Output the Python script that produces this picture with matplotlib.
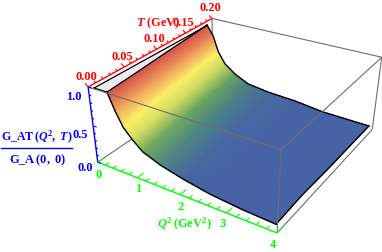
import numpy as np
import matplotlib
matplotlib.use('Agg')
import matplotlib.pyplot as plt
from matplotlib.colors import LinearSegmentedColormap

plt.rcParams['font.family'] = ['Liberation Serif', 'DejaVu Serif']
plt.rcParams['font.weight'] = 'bold'
plt.rcParams['mathtext.fontset'] = 'custom'
plt.rcParams['mathtext.rm'] = 'Liberation Serif:bold'
plt.rcParams['mathtext.it'] = 'Liberation Serif:italic:bold'

# data
T_rows = [0.005, 0.05, 0.10, 0.15, 0.19]
Q_rows = [
    [.36, .51, .67, .86, 1.10, 1.49, 2.00, 2.59, 3.27, 3.92],
    [.28, .42, .58, .77, 1.00, 1.40, 1.90, 2.50, 3.20, 3.92],
    [.18, .33, .48, .67, .92, 1.30, 1.80, 2.45, 3.10, 3.95],
    [.09, .24, .38, .57, .83, 1.20, 1.70, 2.37, 3.03, 3.97],
    [.00, .16, .29, .47, .74, 1.09, 1.61, 2.28, 2.95, 3.99],
]
G_rows = [
    [.97, .76, .58, .46, .34, .25, .175, .11, .07, .05],
    [.965, .77, .59, .46, .34, .25, .18, .13, .09, .07],
    [.96, .78, .60, .45, .33, .24, .18, .14, .10, .08],
    [.955, .79, .60, .445, .33, .235, .185, .155, .115, .095],
    [.947, .81, .60, .44, .325, .23, .19, .17, .125, .11],
]
Q_ticks = [0, 1, 2, 3, 4]
T_ticks = [0.00, 0.05, 0.10, 0.15, 0.20]
G_ticks = [0.0, 0.5, 1.0]

# box corners (Q, T, G) -> pixel position in the figure
corners_3d = [(0, 0, 0), (4, 0, 0), (4, .2, 0), (0, .2, 0), (0, 0, 1), (4, 0, 1), (4, .2, 1), (0, .2, 1)]
corners_px = [(97, 162), (277, 234), (373, 128), (213, 88), (89, 87), (281, 153), (381, 59), (212, 18)]


def fit_camera():
    rows = []
    for (q, t, g), (u, v) in zip(corners_3d, corners_px):
        p = [q, t * 20, g, 1]
        rows.append(p + [0, 0, 0, 0] + [-u * c for c in p])
        rows.append([0, 0, 0, 0] + p + [-v * c for c in p])
    return np.linalg.svd(np.array(rows, float))[2][-1].reshape(3, 4)


CAM = fit_camera()


def proj(q, t, g):
    q, t, g = np.broadcast_arrays(np.asarray(q, float), np.asarray(t, float), np.asarray(g, float))
    w = CAM @ np.stack([q, t * 20, g, np.ones_like(q)]).reshape(4, -1)
    return (w[0] / w[2]).reshape(q.shape), (w[1] / w[2]).reshape(q.shape)


fig = plt.figure(figsize=(3.82, 2.53), dpi=100)
ax = fig.add_axes([0, 0, 1, 1])
ax.set_xlim(0, 382)
ax.set_ylim(253, 0)
ax.axis('off')

GRAY = '#6E6E6E'


def edge(a, b, **kw):
    x, y = proj(*zip(a, b))
    ax.plot(x, y, color=kw.pop('color', GRAY), lw=kw.pop('lw', 0.8), solid_capstyle='butt', **kw)


# box, back part behind the surface
for a, b in [((0, .2, 0), (0, .2, 1)), ((0, .2, 1), (4, .2, 1)), ((4, .2, 1), (4, .2, 0)),
             ((0, 0, 0), (0, .2, 0)), ((4, 0, 0), (4, .2, 0))]:
    edge(a, b, zorder=1)

# surface
cmap = LinearSegmentedColormap.from_list('surf', [
    (0.0, '#4562A5'), (0.17, '#4664A5'), (0.24, '#4C8484'), (0.33, '#6AA560'),
    (0.44, '#C8D85E'), (0.52, '#FCF268'), (0.62, '#FCEE66'), (0.78, '#F09A5A'), (0.90, '#D85A52'), (1.0, '#CC4A4A')])
T_grid = np.repeat(np.array(T_rows)[:, None], len(Q_rows[0]), axis=1)
Q_grid = np.array(Q_rows)
G_grid = np.array(G_rows)
X, Y = proj(Q_grid, T_grid, G_grid)
ax.pcolormesh(X, Y, G_grid, shading='gouraud', cmap=cmap, vmin=0, vmax=1, zorder=2)

# flat cut-off part near G = 1
bx, by = proj([.044, .05], [.005, .185], [.968, .96])
px = np.r_[bx, X[::-1, 0], bx[0]]
py = np.r_[by, Y[::-1, 0], by[0]]
ax.fill(px, py, color='#EBEBEB', ec='none', zorder=2)
ax.plot(px, py, color='k', lw=0.9, zorder=3)

# surface outline
for x_line, y_line in [(X[0], Y[0]), (X[-1], Y[-1]), (X[:, -1], Y[:, -1])]:
    ax.plot(x_line, y_line, color='k', lw=1.0, zorder=3)

# box, front part over the surface
for a, b in [((0, 0, 1), (4, 0, 1)), ((4, 0, 1), (4, 0, 0)), ((4, 0, 1), (4, .2, 1))]:
    edge(a, b, zorder=4)

# axes
GREEN, RED, BLUE = '#00FF00', '#FF0000', '#0000FF'
edge((0, 0, 0), (4, 0, 0), color=GREEN, lw=1, zorder=5)
edge((0, 0, 1), (0, .2, 1), color=RED, lw=1, zorder=5)
edge((0, 0, 0), (0, 0, 1), color=BLUE, lw=1, zorder=5)

for i in range(21):
    q = i * 0.2
    size = 0.009 if i % 5 == 0 else 0.005
    edge((q, 0, 0), (q, size, 0), color=GREEN, lw=0.8, zorder=5)
for i in range(21):
    t = i * 0.01
    size = 0.07 if i % 5 == 0 else 0.04
    edge((0, t, 1), (-size, t, 1 + size / 2), color=RED, lw=0.8, zorder=5)
for i in range(11):
    g = i * 0.1
    size = 0.09 if i % 5 == 0 else 0.05
    edge((0, 0, g), (size, 0, g), color=BLUE, lw=0.8, zorder=5)

fs = 9
off_q = [(1, 12), (1, 10), (0, 11), (-4, 10), (-4, 11)]
off_g = [(-13, 5), (-13, 8), (-14, 9)]
for q, (dx, dy) in zip(Q_ticks, off_q):
    x, y = proj(q, 0, 0)
    ax.text(x + dx, y + dy, str(q), color=GREEN, fontsize=fs, ha='center', va='center', zorder=6)
for t in T_ticks:
    x, y = proj(0, t, 1)
    ax.text(x - 2, y - 11, f'{t:.2f}', color=RED, fontsize=fs, ha='center', va='center', zorder=6)
for g, (dx, dy) in zip(G_ticks, off_g):
    x, y = proj(0, 0, g)
    ax.text(x + dx, y + dy, f'{g:.1f}', color=BLUE, fontsize=fs, ha='center', va='center', zorder=6)

ax.text(184, 224, r'$\mathit{Q}^{2}\,(\mathrm{GeV}^{2})$', color=GREEN, fontsize=fs, ha='center', va='center', zorder=6)
ax.text(158, 23, r'$\mathit{T}\;(\mathrm{GeV})$', color=RED, fontsize=fs, ha='center', va='center', zorder=6)
ax.text(37, 137, r'$\mathrm{G\_AT}\,(\mathit{Q}^{2},\ \mathit{T})$', color=BLUE, fontsize=8.6, ha='center', va='center', zorder=6)
ax.text(38, 160, r'$\mathrm{G\_A}\,(0,\ 0)$', color=BLUE, fontsize=fs, ha='center', va='center', zorder=6)
ax.plot([1, 72], [148.5, 148.5], color=BLUE, lw=1, zorder=5)

fig.savefig('out.png', dpi=100)
